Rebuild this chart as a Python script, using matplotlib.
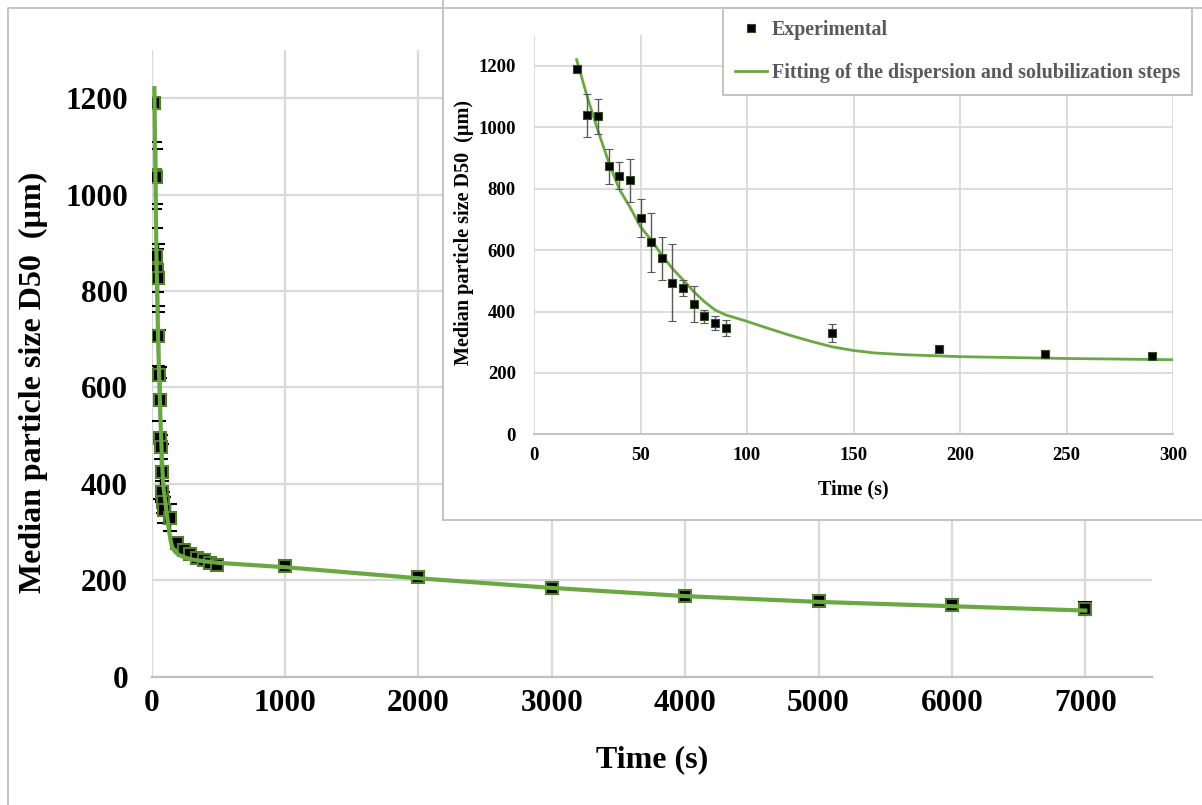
import matplotlib
matplotlib.use('Agg')
import matplotlib.pyplot as plt
from matplotlib.lines import Line2D

plt.rcParams['font.family'] = ['Liberation Serif', 'DejaVu Serif']
plt.rcParams['font.weight'] = 'bold'

# experimental points (time s, median D50 um, error)
time_exp = [20, 25, 30, 35, 40, 45, 50, 55, 60, 65, 70, 75, 80, 85, 90,
            140, 190, 240, 290, 340, 390, 440, 490,
            1000, 2000, 3000, 4000, 5000, 6000, 7000]
d50_exp = [1190, 1040, 1037, 873, 843, 827, 706, 625, 573, 494, 477, 424, 384, 362, 346,
           330, 277, 263, 255, 247, 241, 236, 232,
           230, 206, 183, 167, 157, 148, 141]
d50_err = [10, 70, 57, 57, 45, 70, 62, 95, 70, 125, 25, 58, 22, 22, 27,
           28, 8, 10, 8, 8, 8, 8, 8,
           10, 10, 10, 10, 10, 10, 14]

# fitted curve
time_fit = [20, 25, 30, 35, 40, 45, 50, 55, 60, 65, 70, 75, 80, 85, 90,
            100, 110, 120, 130, 140, 150, 160, 175, 200, 250, 300, 400, 500,
            1000, 2000, 3000, 4000, 5000, 6000, 7000]
d50_fit = [1221, 1100, 990, 888, 799, 741, 676, 633, 584, 540, 503, 465, 432, 405, 389,
           368, 345, 323, 303, 285, 273, 265, 259, 253, 247, 243, 239, 236,
           227, 204, 184, 167, 155, 146, 137]

main_xticks = [0, 1000, 2000, 3000, 4000, 5000, 6000, 7000]
inset_xticks = [0, 50, 100, 150, 200, 250, 300]
yticks = [0, 200, 400, 600, 800, 1000, 1200]

W, H = 1202, 805
green = '#6aa843'
gridc = '#d9d9d9'
ylab = 'Median particle size D50  (\u00b5m)'

fig = plt.figure(figsize=(W / 100, H / 100), dpi=100)

# main chart
ax = fig.add_axes([151.7 / W, (H - 676.6) / H, 1000.3 / W, 626.6 / H])
ax.set_xlim(0, 7500)
ax.set_ylim(0, 1300)
ax.set_xticks(main_xticks)
ax.set_yticks(yticks)
ax.grid(True, color=gridc, lw=1.6)
ax.set_axisbelow(True)
for s in ['top', 'right', 'left']:
    ax.spines[s].set_visible(False)
ax.spines['bottom'].set_color('#bfbfbf')
ax.spines['bottom'].set_linewidth(1.6)
ax.tick_params(axis='both', length=0, labelsize=22.5)
ax.tick_params(axis='y', pad=17)
ax.tick_params(axis='x', pad=9)
ax.errorbar(time_exp, d50_exp, yerr=d50_err, fmt='s', ms=8, mfc='black', mec='#4f7f2c',
            mew=1.5, ecolor='black', elinewidth=1, capsize=5, capthick=1, zorder=3)
ax.plot(time_fit, d50_fit, color=green, lw=3, zorder=4)
ax.set_ylabel(ylab, fontsize=23, fontweight='bold')
ax.yaxis.set_label_coords(-0.1037, 0.47)
ax.set_xlabel('Time (s)', fontsize=23, fontweight='bold')
ax.xaxis.set_label_coords(0.5, -0.109)
ax.set_zorder(0)

# white box behind the inset
bg = fig.add_axes([443 / W, (H - 520) / H, 0.7, 0.7])
bg.set_xticks([])
bg.set_yticks([])
for s in ['top', 'right']:
    bg.spines[s].set_visible(False)
for s in ['left', 'bottom']:
    bg.spines[s].set_color('#bfbfbf')
    bg.spines[s].set_linewidth(1.3)
bg.set_zorder(1)

# inset
ax2 = fig.add_axes([534 / W, (H - 434.3) / H, 639 / W, 399 / H])
ax2.set_xlim(0, 300)
ax2.set_ylim(0, 1300)
ax2.set_xticks(inset_xticks)
ax2.set_yticks(yticks)
ax2.grid(True, color=gridc, lw=1.3)
ax2.set_axisbelow(True)
for s in ['top', 'right', 'left']:
    ax2.spines[s].set_visible(False)
ax2.spines['bottom'].set_color('#bfbfbf')
ax2.spines['bottom'].set_linewidth(1.3)
ax2.tick_params(axis='both', length=0, labelsize=13.5)
ax2.tick_params(axis='y', pad=13)
ax2.tick_params(axis='x', pad=9)
ax2.plot(time_fit, d50_fit, color=green, lw=2, zorder=3)
ax2.errorbar(time_exp, d50_exp, yerr=d50_err, fmt='s', ms=5.5, mfc='black', mec='#2f4f1c',
             mew=0.8, ecolor='#595959', elinewidth=1, capsize=3, capthick=1, zorder=4)
ax2.set_ylabel(ylab, fontsize=14.5, fontweight='bold')
ax2.yaxis.set_label_coords(-0.094, 0.507)
ax2.set_xlabel('Time (s)', fontsize=14.5, fontweight='bold')
ax2.xaxis.set_label_coords(0.5, -0.112)
ax2.set_zorder(2)

# legend
handles = [
    Line2D([], [], ls='none', marker='s', ms=6, mfc='black', mec='#2f4f1c', mew=0.8),
    Line2D([], [], color=green, lw=2),
]
leg = fig.legend(handles, ['Experimental', 'Fitting of the dispersion and solubilization steps'],
                 loc='upper left', bbox_to_anchor=(723 / W, 1 - 8 / H),
                 prop={'family': 'Liberation Serif', 'weight': 'bold', 'size': 14.4},
                 labelcolor='#595959', frameon=True, fancybox=False, edgecolor='#bfbfbf',
                 framealpha=1, borderpad=0.6, labelspacing=1.15, handlelength=1.6,
                 handletextpad=0.25, borderaxespad=0)
leg.get_frame().set_linewidth(1.3)

# outer border (left and top)
fig.add_artist(Line2D([8 / W, 8 / W, 1], [0, 1 - 8 / H, 1 - 8 / H], transform=fig.transFigure,
                      color='#bfbfbf', lw=1.3, zorder=6))

fig.savefig('out.png', dpi=100)
